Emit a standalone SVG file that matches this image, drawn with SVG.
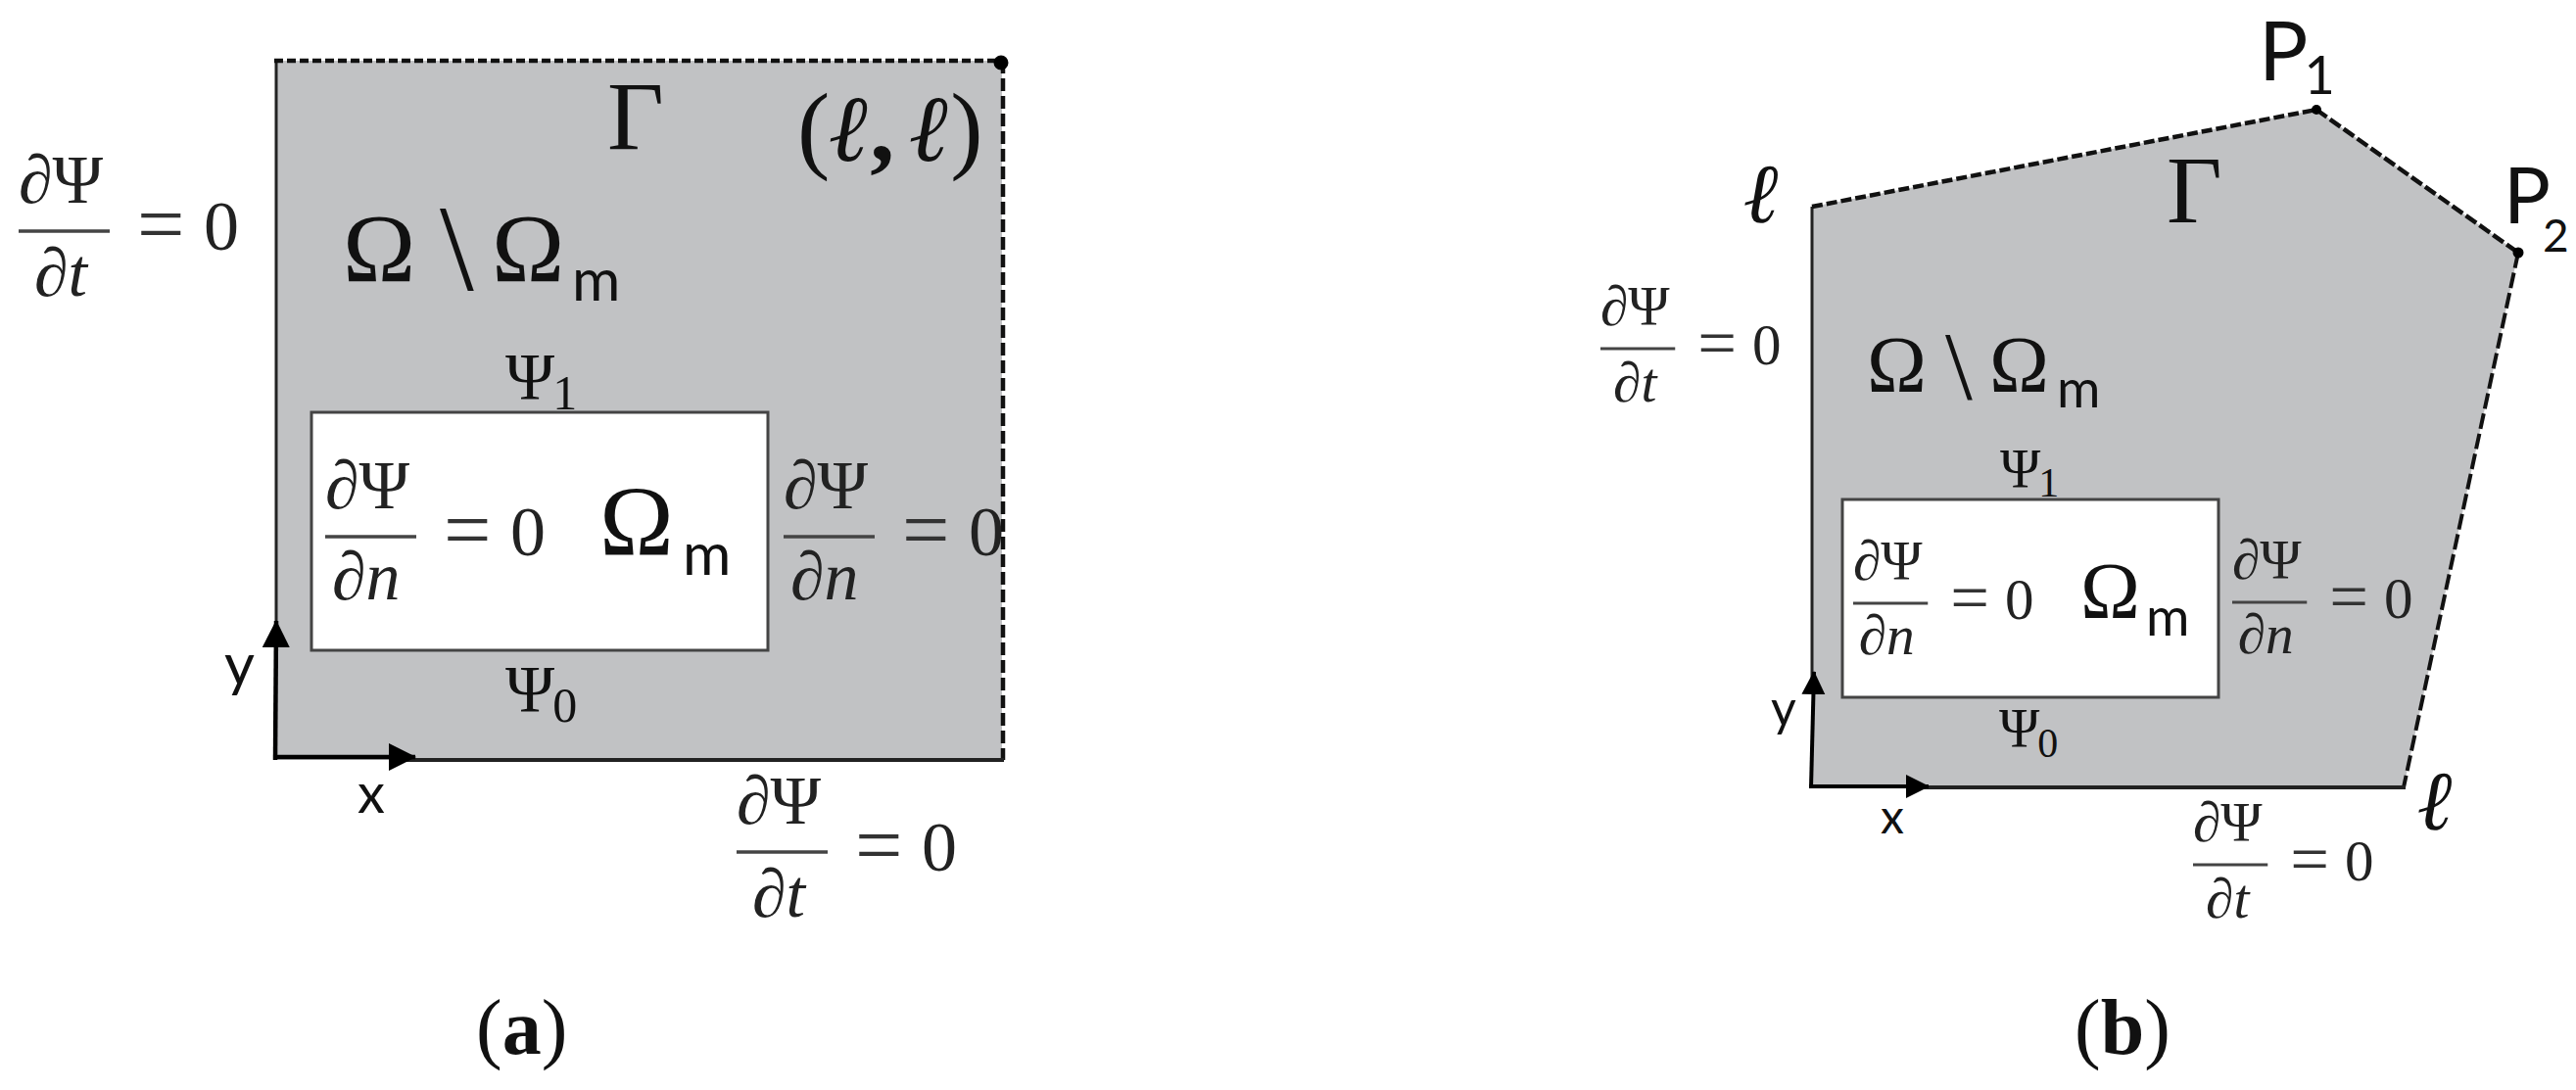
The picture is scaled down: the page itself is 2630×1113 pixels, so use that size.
<svg xmlns="http://www.w3.org/2000/svg" width="2630" height="1113" viewBox="0 0 2630 1113">
<style>
text{font-family:"Liberation Serif","DejaVu Serif",serif;fill:#111}
.f{font-size:70px;fill:#222}
.i{font-style:italic}
.eq{font-size:86px;fill:#333}
.z{font-size:72px;fill:#222}
.bar{stroke:#444;stroke-width:3.5;fill:none}
.s{font-family:"Lato","Liberation Sans",sans-serif}
.shape{fill:#c1c2c4;stroke:none}
.box{fill:#fff;stroke:#444;stroke-width:3}
.solid{fill:none;stroke:#222;stroke-width:3}
.dash{fill:none;stroke:#111;stroke-width:4.5;stroke-dasharray:13 5}
.ax{fill:none;stroke:#000;stroke-width:4.5}
.ell{font-weight:bold;font-style:italic;font-family:"DejaVu Serif",serif}
</style>
<defs>
<marker id="ah" markerUnits="userSpaceOnUse" markerWidth="30" markerHeight="30" refX="27" refY="14" orient="auto"><path d="M0 0L28 14L0 28Z" fill="#000"/></marker>
<marker id="ahs" markerUnits="userSpaceOnUse" markerWidth="26" markerHeight="26" refX="23" refY="12" orient="auto"><path d="M0 0L24 12L0 24Z" fill="#000"/></marker>
</defs>

<g id="panel-a">
<rect class="shape" x="282" y="62" width="741" height="714"/>
<rect class="box" x="318" y="421" width="466" height="243"/>
<g id="connectors-a">
<path class="solid" d="M282 62V660"/>
<path class="dash" d="M280 62H1023" style="stroke-dasharray:9 4"/>
<path class="dash" d="M1024 62V776"/>
<path class="solid" d="M400 776H1025" style="stroke-width:4"/>
<path class="ax" d="M281 776L282 634" marker-end="url(#ah)"/>
<path class="ax" d="M279 773H424" marker-end="url(#ah)"/>
<circle cx="1022" cy="64" r="7.5" fill="#000"/>
</g>
<g id="label-a-gamma"><text x="620" y="152" font-size="100">Γ</text></g>
<g id="label-a-corner"><text x="814" y="164" font-size="100">(<tspan class="ell" font-size="96">ℓ</tspan><tspan font-weight="bold">,</tspan><tspan class="ell" font-size="96" dx="16">ℓ</tspan>)</text></g>
<g id="label-a-domain"><text x="350" y="287" font-size="100">Ω</text><text x="449" y="296" font-size="125">\</text><text x="502" y="287" font-size="100">Ω</text><text class="s" x="584" y="307" font-size="60">m</text></g>
<g id="label-a-psi1"><text x="516" y="407" font-size="68">Ψ<tspan font-size="50" dx="-2" dy="11">1</tspan></text></g>
<g id="label-a-psi0"><text x="516" y="726" font-size="68">Ψ<tspan font-size="50" dx="-2" dy="11">0</tspan></text></g>
<g id="label-a-omegam"><text x="612" y="567" font-size="102">Ω</text><text class="s" x="697" y="587" font-size="60">m</text></g>
<text class="s" x="229" y="700" font-size="60">y</text>
<text class="s" x="365" y="830" font-size="56">x</text>
<g transform="translate(19 236)"><path class="bar" d="M0 0H93"/><text class="f" x="0" y="-29"><tspan class="i">∂</tspan>Ψ</text><text class="f" x="16" y="66"><tspan class="i">∂t</tspan></text><text class="eq" x="121" y="22">=</text><text class="z" x="189" y="19">0</text></g>
<g transform="translate(332 548)"><path class="bar" d="M0 0H93"/><text class="f" x="0" y="-29"><tspan class="i">∂</tspan>Ψ</text><text class="f" x="7" y="64"><tspan class="i">∂n</tspan></text><text class="eq" x="121" y="22">=</text><text class="z" x="189" y="19">0</text></g>
<g transform="translate(800 548)"><path class="bar" d="M0 0H93"/><text class="f" x="0" y="-29"><tspan class="i">∂</tspan>Ψ</text><text class="f" x="7" y="64"><tspan class="i">∂n</tspan></text><text class="eq" x="121" y="22">=</text><text class="z" x="189" y="19">0</text></g>
<g transform="translate(752 870)"><path class="bar" d="M0 0H93"/><text class="f" x="0" y="-29"><tspan class="i">∂</tspan>Ψ</text><text class="f" x="16" y="66"><tspan class="i">∂t</tspan></text><text class="eq" x="121" y="22">=</text><text class="z" x="189" y="19">0</text></g>
<g id="caption-a"><text x="486" y="1076" font-size="80">(<tspan font-weight="bold">a</tspan>)</text></g>
</g>

<g id="panel-b">
<path class="shape" d="M1850 211L2365 112L2571 258L2454 804H1850Z"/>
<rect class="box" x="1881" y="510" width="384" height="202"/>
<g id="connectors-b">
<path class="solid" d="M1850 211V700"/>
<path class="dash" d="M1850 211L2365 112" style="stroke-dasharray:11 4"/>
<path class="dash" d="M2365 112L2571 258" style="stroke-dasharray:13 4"/>
<path class="dash" d="M2571 258L2454 804" style="stroke-width:4;stroke-dasharray:16 5"/>
<path class="solid" d="M1960 804H2456" style="stroke-width:4"/>
<path class="ax" d="M1849 805L1852 686" marker-end="url(#ahs)" style="stroke-width:4"/>
<path class="ax" d="M1847 803H1969" marker-end="url(#ahs)" style="stroke-width:4"/>
<circle cx="2365" cy="112" r="5" fill="#000"/>
<circle cx="2571" cy="258" r="5.5" fill="#000"/>
</g>
<g id="label-b-gamma"><text x="2212" y="227" font-size="98">Γ</text></g>
<g id="label-b-l1"><text class="ell" x="1781" y="227" font-size="86">ℓ</text></g>
<g id="label-b-l2"><text class="ell" x="2469" y="847" font-size="86">ℓ</text></g>
<g id="label-b-p1"><text class="s" x="2306" y="82" font-size="84">P<tspan font-size="54" dx="-4" dy="14">1</tspan></text></g>
<g id="label-b-p2"><text class="s" x="2556" y="228" font-size="80">P<tspan font-size="46" dx="-8" dy="29">2</tspan></text></g>
<g id="label-b-domain"><text x="1906" y="400" font-size="82">Ω</text><text x="1986" y="407" font-size="100">\</text><text x="2031" y="400" font-size="82">Ω</text><text class="s" x="2100" y="416" font-size="54">m</text></g>
<g id="label-b-psi1"><text x="2042" y="498" font-size="56">Ψ<tspan font-size="42" dx="-2" dy="9">1</tspan></text></g>
<g id="label-b-psi0"><text x="2041" y="763" font-size="56">Ψ<tspan font-size="42" dx="-2" dy="10">0</tspan></text></g>
<g id="label-b-omegam"><text x="2124" y="631" font-size="82">Ω</text><text class="s" x="2191" y="649" font-size="54">m</text></g>
<text class="s" x="1808" y="741" font-size="50">y</text>
<text class="s" x="1920" y="851" font-size="48">x</text>
<g transform="translate(1634 356) scale(.82)"><path class="bar" d="M0 0H93"/><text class="f" x="0" y="-29"><tspan class="i">∂</tspan>Ψ</text><text class="f" x="16" y="66"><tspan class="i">∂t</tspan></text><text class="eq" x="121" y="22">=</text><text class="z" x="189" y="19">0</text></g>
<g transform="translate(1892 616) scale(.82)"><path class="bar" d="M0 0H93"/><text class="f" x="0" y="-29"><tspan class="i">∂</tspan>Ψ</text><text class="f" x="7" y="64"><tspan class="i">∂n</tspan></text><text class="eq" x="121" y="22">=</text><text class="z" x="189" y="19">0</text></g>
<g transform="translate(2279 615) scale(.82)"><path class="bar" d="M0 0H93"/><text class="f" x="0" y="-29"><tspan class="i">∂</tspan>Ψ</text><text class="f" x="7" y="64"><tspan class="i">∂n</tspan></text><text class="eq" x="121" y="22">=</text><text class="z" x="189" y="19">0</text></g>
<g transform="translate(2239 883) scale(.82)"><path class="bar" d="M0 0H93"/><text class="f" x="0" y="-29"><tspan class="i">∂</tspan>Ψ</text><text class="f" x="16" y="66"><tspan class="i">∂t</tspan></text><text class="eq" x="121" y="22">=</text><text class="z" x="189" y="19">0</text></g>
<g id="caption-b"><text x="2118" y="1076" font-size="80">(<tspan font-weight="bold">b</tspan>)</text></g>
</g>
</svg>
